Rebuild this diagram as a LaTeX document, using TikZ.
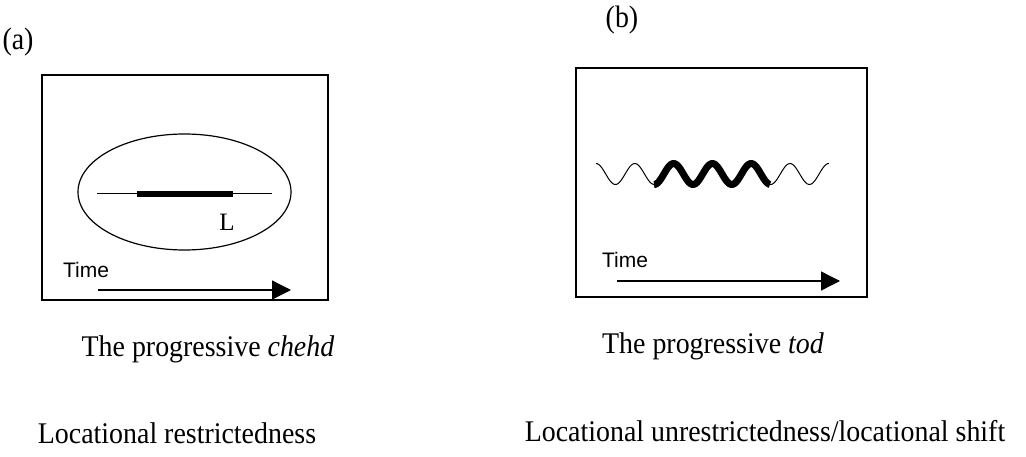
\documentclass[tikz,border=0pt]{standalone}
\usepackage{fontspec}
\setmainfont{Liberation Serif}
\newfontfamily\timefont{Liberation Sans}
\usetikzlibrary{arrows.meta}
\usetikzlibrary{shapes.geometric}
\tikzstyle{panel}=[font=\fontsize{31}{34}\selectfont, xscale=0.9]
\tikzstyle{caption}=[font=\fontsize{30}{34}\selectfont, xscale=0.93]
\tikzstyle{timelbl}=[font=\timefont\fontsize{21}{24}\selectfont]
\tikzstyle{timearrow}=[line width=1.3pt, arrows={-Triangle[length=19pt,width=19pt]}]
\tikzstyle{frame}=[line width=1.5pt]
\newcommand{\wavey}[1]{174-10.5*cos(9.2784*(#1-596))}

\begin{document}
\begin{tikzpicture}[x=1pt,y=-1pt]
\useasboundingbox (0,0) rectangle (1026,457);
\tikzstyle{every node}=[inner sep=0pt]
% frames
\draw[frame] (42,75) rectangle (328,300);
\draw[frame] (576,68) rectangle (867,297);
% panel (a)
\node[panel] (pa) at (18,42) {(a)};
\node[draw, ellipse, line width=1.2pt, minimum width=213pt, minimum height=116pt] (ell) at (184.5,192) {};
\coordinate (ls) at (97,194);
\coordinate (le) at (272,194);
\coordinate (ts) at (137,194);
\coordinate (te) at (233,194);
\draw[line width=1pt] (ls) -- (le);
\draw[line width=6.5pt] (ts) -- (te);
\node[font=\fontsize{25}{28}\selectfont] (L) at (227,222) {L};
\node[timelbl] (tla) at (86,270) {Time};
\coordinate (ta0) at (98,290);
\coordinate (ta1) at (291,290);
\draw[timearrow] (ta0) -- (ta1);
\node[caption] (ca1) at (208,349) {The progressive \textit{chehd}};
\node[caption] (ca2) at (177,433) {Locational restrictedness};
% panel (b)
\node[panel] (pb) at (622,20) {(b)};
\draw[line width=1pt, line join=round] plot[domain=596:829, samples=160, smooth] (\x, {\wavey{\x}});
\draw[line width=7pt, line join=round] plot[domain=654:770, samples=90, smooth] (\x, {\wavey{\x}});
\node[timelbl] (tlb) at (625,260) {Time};
\coordinate (tb0) at (617,281);
\coordinate (tb1) at (840,281);
\draw[timearrow] (tb0) -- (tb1);
\node[caption] (cb1) at (713,346) {The progressive \textit{tod}};
\node[caption] (cb2) at (765,431) {Locational unrestrictedness/locational shift};
\end{tikzpicture}
\end{document}
